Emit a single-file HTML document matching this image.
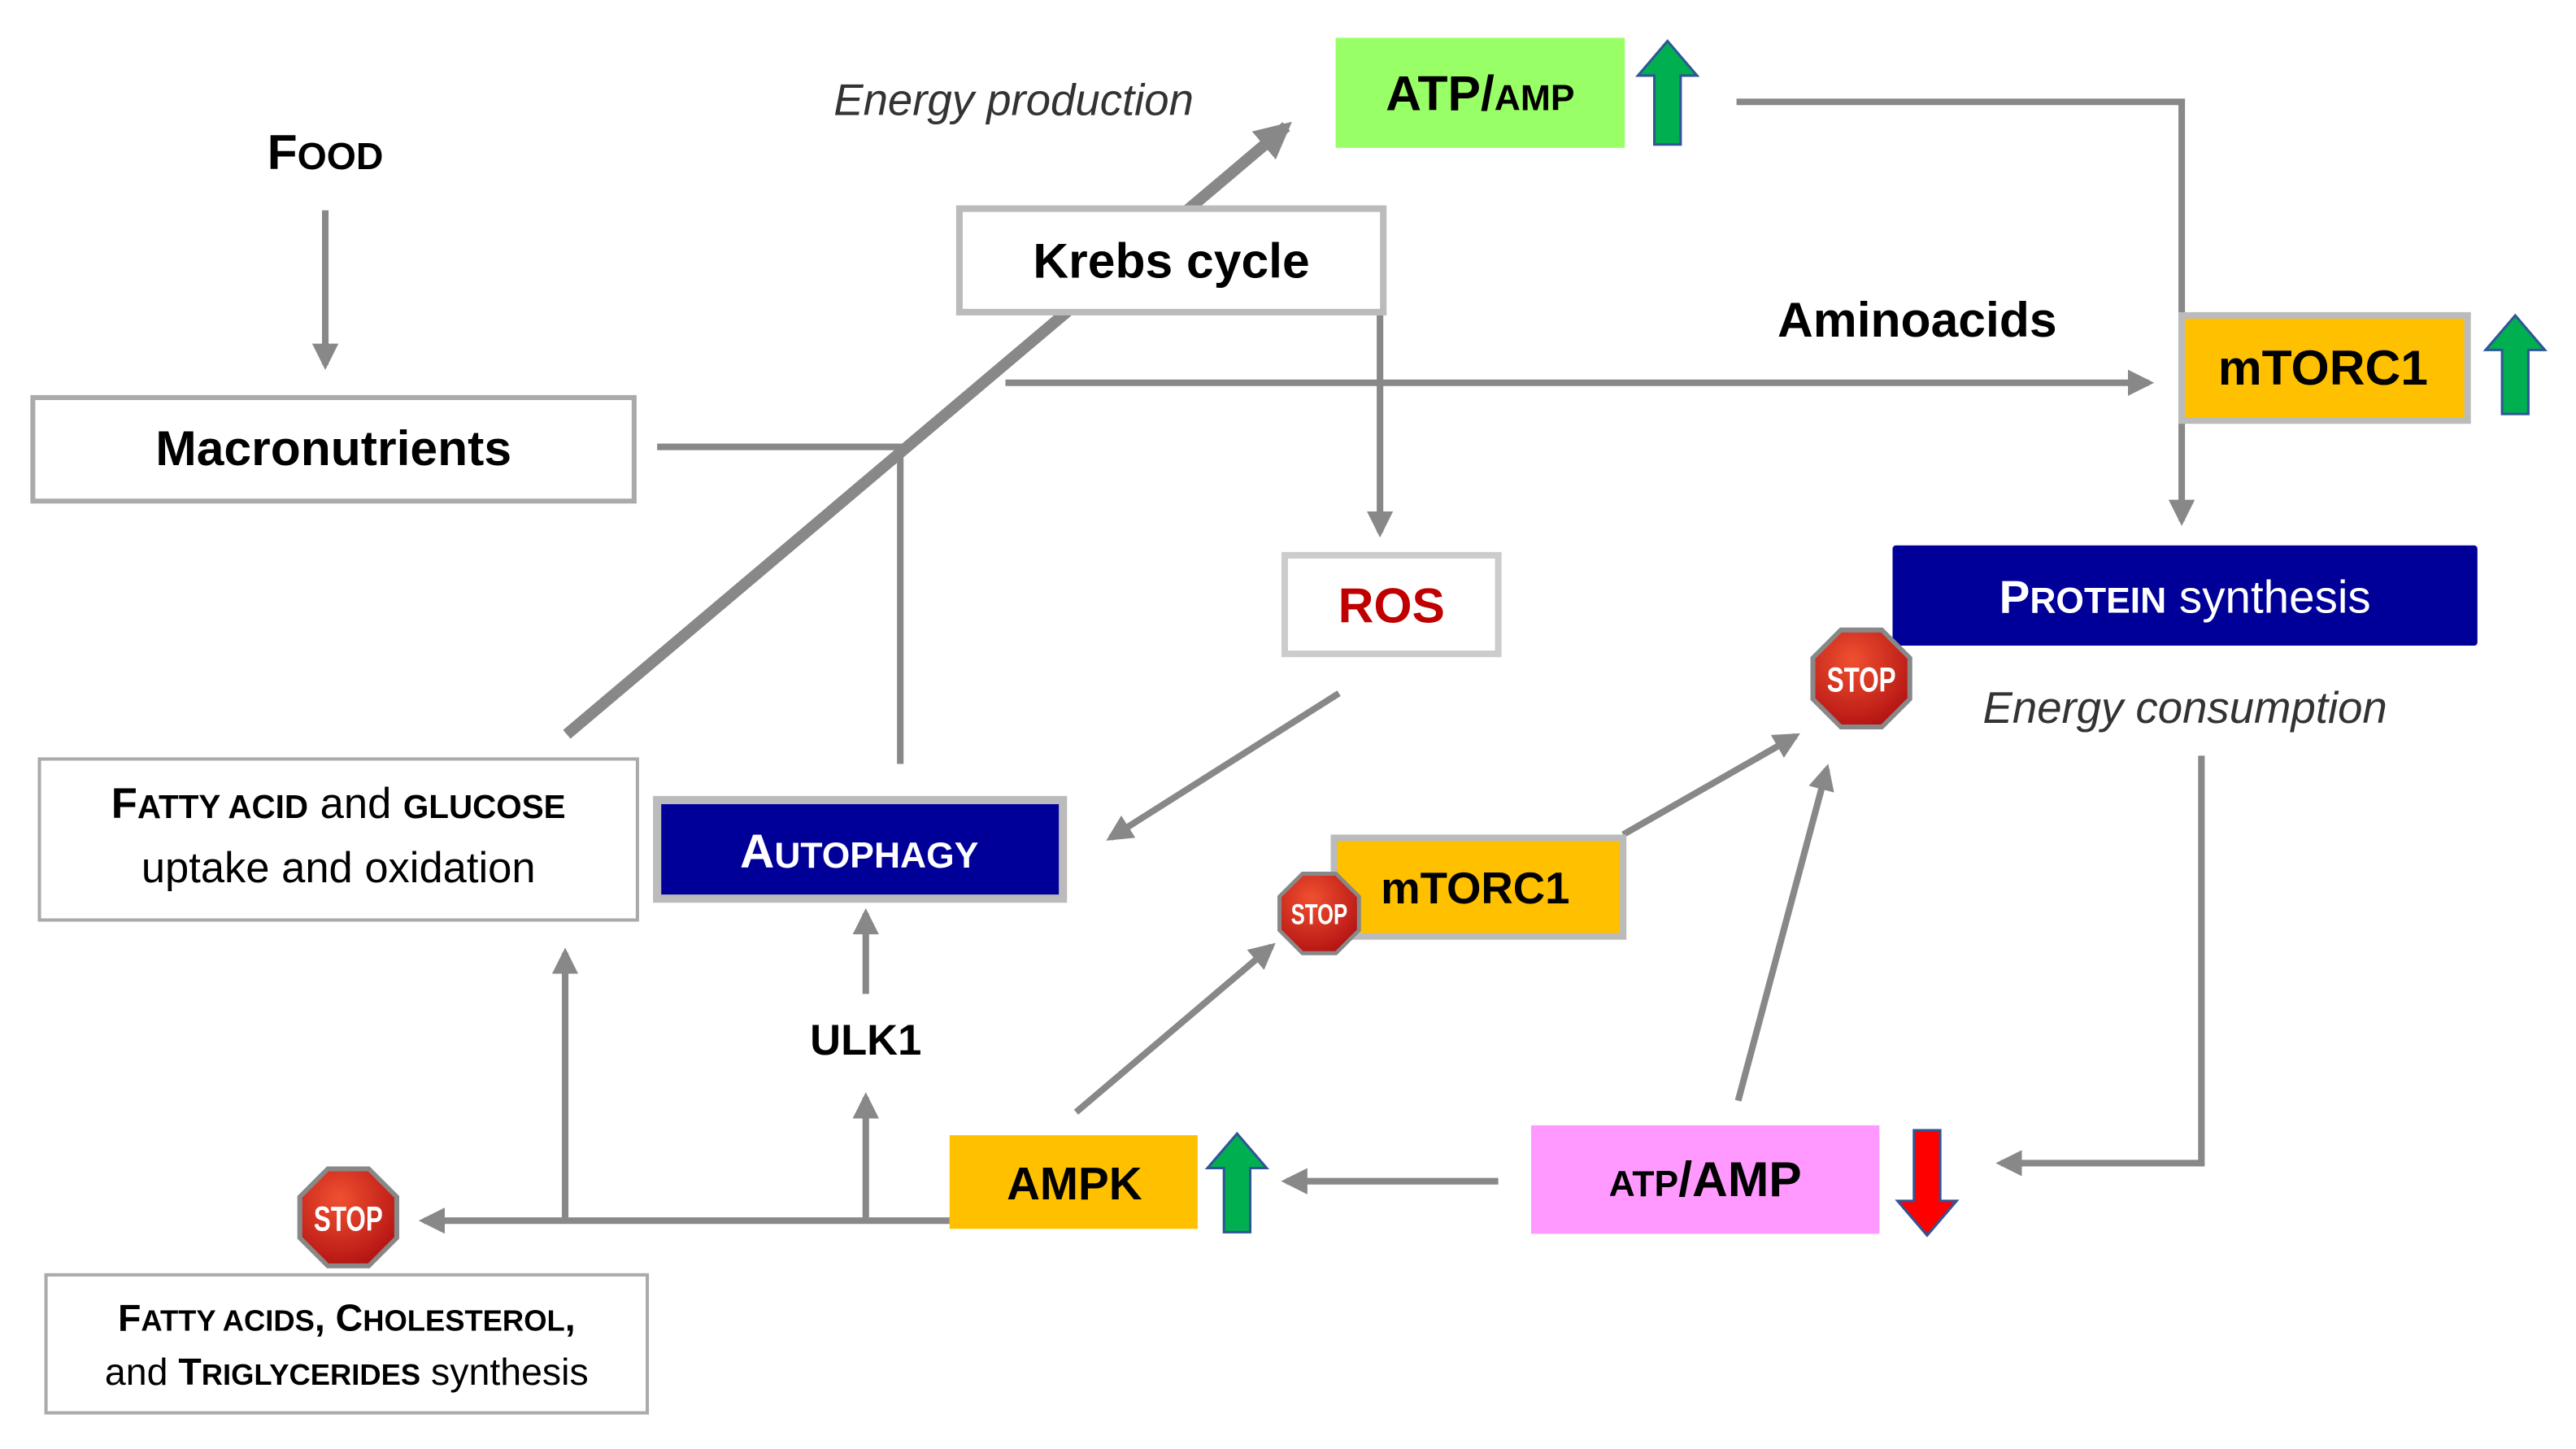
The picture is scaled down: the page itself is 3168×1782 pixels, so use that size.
<!DOCTYPE html>
<html><head><meta charset="utf-8"><style>
html,body{margin:0;padding:0;background:#fff;}
svg{display:block;}
text{font-family:"Liberation Sans","DejaVu Sans",sans-serif;}
</style></head><body>
<svg width="3168" height="1782" viewBox="0 0 1568 882" xmlns="http://www.w3.org/2000/svg">
<defs>
<marker id="ah" viewBox="0 0 10 10" refX="8" refY="5" markerWidth="4" markerHeight="4" orient="auto" markerUnits="strokeWidth"><path d="M0,0 L10,5 L0,10 z" fill="#888"/></marker>
<marker id="ahb" viewBox="0 0 10 10" refX="8" refY="5" markerWidth="3.2" markerHeight="3.2" orient="auto" markerUnits="strokeWidth"><path d="M0,0 L10,5 L0,10 z" fill="#888"/></marker>
<radialGradient id="sg" cx="0.4" cy="0.3" r="0.8"><stop offset="0" stop-color="#f05030"/><stop offset="1" stop-color="#b01010"/></radialGradient>
<g id="stop">
<polygon points="-13,-31 13,-31 31,-13 31,13 13,31 -13,31 -31,13 -31,-13" fill="#888"/>
<polygon points="-12,-28 12,-28 28,-12 28,12 12,28 -12,28 -28,12 -28,-12" fill="url(#sg)"/>
<text x="0" y="8" text-anchor="middle" font-size="21" font-weight="bold" fill="#fff" textLength="42" lengthAdjust="spacingAndGlyphs">STOP</text>
</g>
</defs>
<g stroke="#888" stroke-width="4" fill="none">
<line x1="198" y1="128" x2="198" y2="222" marker-end="url(#ah)"/>
<polyline points="400,272 548,272 548,465"/>
<line x1="345" y1="447" x2="783" y2="77" stroke-width="7" marker-end="url(#ahb)"/>
<line x1="840" y1="190" x2="840" y2="324" marker-end="url(#ah)"/>
<line x1="612" y1="233" x2="1308" y2="233" marker-end="url(#ah)"/>
<polyline points="1057,62 1328,62 1328,317" marker-end="url(#ah)"/>
<polyline points="1340,460 1340,708 1218,708" marker-end="url(#ah)"/>
<line x1="815" y1="422" x2="676" y2="510" marker-end="url(#ah)"/>
<line x1="527" y1="605" x2="527" y2="556" marker-end="url(#ah)"/>
<line x1="527" y1="743" x2="527" y2="668" marker-end="url(#ah)"/>
<line x1="344" y1="743" x2="344" y2="580" marker-end="url(#ah)"/>
<line x1="578" y1="743" x2="258" y2="743" marker-end="url(#ah)"/>
<line x1="912" y1="719" x2="783" y2="719" marker-end="url(#ah)"/>
<line x1="1058" y1="670" x2="1112" y2="468" marker-end="url(#ah)"/>
<line x1="655" y1="677" x2="774" y2="576" marker-end="url(#ah)"/>
<line x1="988" y1="508" x2="1093" y2="448" marker-end="url(#ah)"/>
</g>
<!-- boxes -->
<rect x="20" y="242" width="366" height="63" fill="#fff" stroke="#aaa" stroke-width="3"/>
<rect x="584" y="127" width="258" height="63" fill="#fff" stroke="#bbb" stroke-width="4"/>
<rect x="813" y="23" width="176" height="67" fill="#99ff66"/>
<rect x="1328" y="192" width="174" height="64" fill="#ffc000" stroke="#bbb" stroke-width="4"/>
<rect x="1152" y="332" width="356" height="61" fill="#000099" rx="2"/>
<rect x="782" y="338" width="130" height="60" fill="#fff" stroke="#ccc" stroke-width="4"/>
<rect x="400" y="487" width="247" height="60" fill="#000099" stroke="#bbb" stroke-width="5"/>
<rect x="24" y="462" width="364" height="98" fill="#fff" stroke="#aaa" stroke-width="2"/>
<rect x="28" y="776" width="366" height="84" fill="#fff" stroke="#aaa" stroke-width="2"/>
<rect x="578" y="691" width="151" height="57" fill="#ffc000"/>
<rect x="932" y="685" width="212" height="66" fill="#ff99ff"/>
<rect x="812" y="510" width="176" height="60" fill="#ffc000" stroke="#bbb" stroke-width="4"/>
<!-- up/down arrows -->
<polygon points="1015,25 1033,46 1023,46 1023,88 1007,88 1007,46 997,46" fill="#00b050" stroke="#2f5597" stroke-width="1.5"/>
<polygon points="1531,192 1549,213 1539,213 1539,252 1523,252 1523,213 1513,213" fill="#00b050" stroke="#2f5597" stroke-width="1.5"/>
<polygon points="753,690 771,711 761,711 761,750 745,750 745,711 735,711" fill="#00b050" stroke="#2f5597" stroke-width="1.5"/>
<polygon points="1173,752 1191,731 1181,731 1181,688 1165,688 1165,731 1155,731" fill="#ff0000" stroke="#2f5597" stroke-width="1.5"/>
<!-- stops -->
<use href="#stop" transform="translate(1133,413)"/>
<use href="#stop" transform="translate(803,556) scale(0.82)"/>
<use href="#stop" transform="translate(212,741)"/>
<!-- text -->
<text x="198" y="103" text-anchor="middle" font-size="30" font-weight="bold">F<tspan font-size="23">OOD</tspan></text>
<text x="617" y="70" text-anchor="middle" font-size="27" font-style="italic" fill="#333">Energy production</text>
<text x="901" y="67" text-anchor="middle" font-size="30" font-weight="bold">ATP/<tspan font-size="22">AMP</tspan></text>
<text x="713" y="169" text-anchor="middle" font-size="30" font-weight="bold">Krebs cycle</text>
<text x="203" y="283" text-anchor="middle" font-size="30" font-weight="bold">Macronutrients</text>
<text x="1167" y="205" text-anchor="middle" font-size="30" font-weight="bold">Aminoacids</text>
<text x="1414" y="234" text-anchor="middle" font-size="30" font-weight="bold">mTORC1</text>
<text x="1330" y="373" text-anchor="middle" font-size="28" fill="#fff"><tspan font-weight="bold">P</tspan><tspan font-weight="bold" font-size="22">ROTEIN</tspan> synthesis</text>
<text x="1330" y="440" text-anchor="middle" font-size="27" font-style="italic" fill="#333">Energy consumption</text>
<text x="847" y="379" text-anchor="middle" font-size="30" font-weight="bold" fill="#c00000">ROS</text>
<text x="523" y="528" text-anchor="middle" font-size="29" font-weight="bold" fill="#fff">A<tspan font-size="22">UTOPHAGY</tspan></text>
<text x="206" y="498" text-anchor="middle" font-size="26"><tspan font-weight="bold">F<tspan font-size="20">ATTY ACID</tspan></tspan> and <tspan font-weight="bold" font-size="20">GLUCOSE</tspan></text>
<text x="206" y="537" text-anchor="middle" font-size="26">uptake and oxidation</text>
<text x="527" y="642" text-anchor="middle" font-size="26" font-weight="bold">ULK1</text>
<text x="211" y="810" text-anchor="middle" font-size="23"><tspan font-weight="bold">F<tspan font-size="18">ATTY ACIDS</tspan>, C<tspan font-size="18">HOLESTEROL</tspan>,</tspan></text>
<text x="211" y="843" text-anchor="middle" font-size="23">and <tspan font-weight="bold">T<tspan font-size="18">RIGLYCERIDES</tspan></tspan>  synthesis</text>
<text x="654" y="730" text-anchor="middle" font-size="28" font-weight="bold">AMPK</text>
<text x="1038" y="728" text-anchor="middle" font-size="30" font-weight="bold"><tspan font-size="22">ATP</tspan>/AMP</text>
<text x="898" y="550" text-anchor="middle" font-size="27" font-weight="bold">mTORC1</text>
</svg>
</body></html>
